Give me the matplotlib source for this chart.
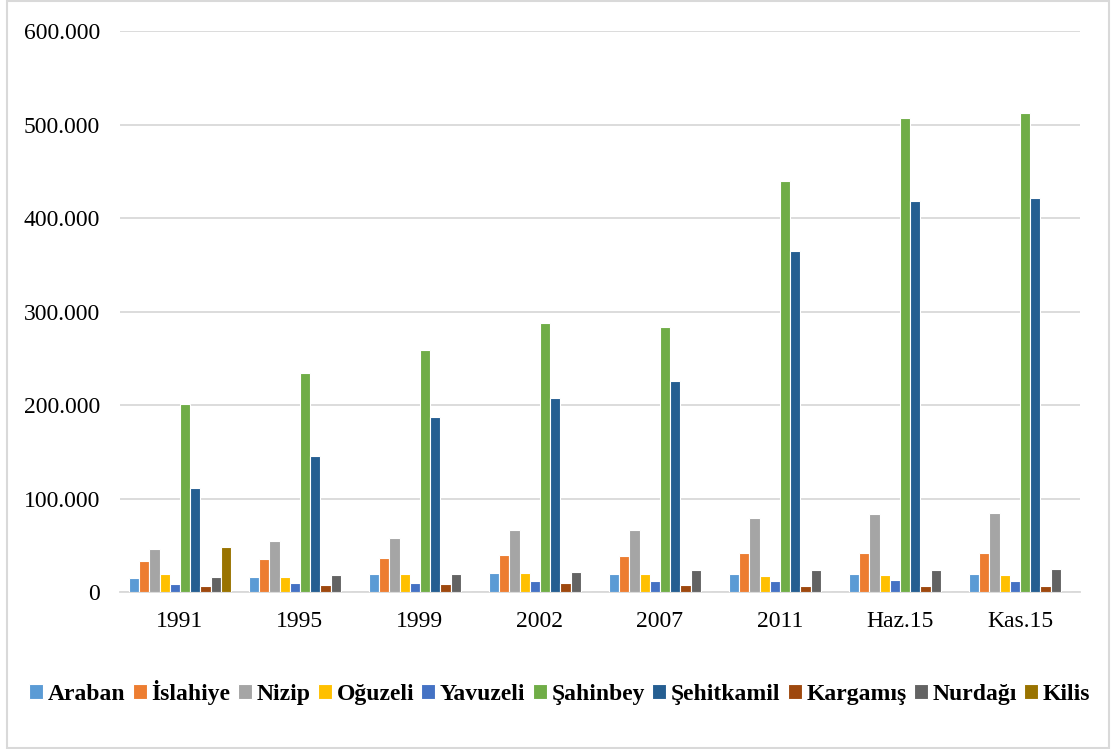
import numpy as np
import matplotlib.pyplot as plt
from matplotlib.patches import Rectangle
from matplotlib.ticker import FuncFormatter

plt.rcParams['font.family'] = ['Liberation Serif', 'DejaVu Serif']

# data
years = ["1991", "1995", "1999", "2002", "2007", "2011", "Haz.15", "Kas.15"]
araban = [15400, 15800, 19000, 20000, 19200, 19200, 19200, 19200]
islahiye = [33000, 35000, 36700, 39600, 38100, 41400, 41400, 41800]
nizip = [46400, 54200, 57800, 66000, 66000, 79000, 83400, 84100]
oguzeli = [19700, 16400, 19600, 20700, 19200, 17100, 18200, 17800]
yavuzeli = [9000, 9600, 9600, 11400, 11800, 12100, 12800, 12100]
sahinbey = [201000, 234000, 259000, 287700, 283400, 439600, 507000, 512300]
sehitkamil = [111000, 145500, 187000, 207500, 225700, 364700, 418000, 421000]
kargamis = [6400, 7800, 8500, 9600, 7800, 6400, 6400, 6000]
nurdagi = [16500, 17800, 18900, 21000, 23500, 23200, 23500, 24200]
kilis = [48000, 0, 0, 0, 0, 0, 0, 0]

series = [
    ("Araban", araban, "#5B9BD5"),
    ("İslahiye", islahiye, "#ED7D31"),
    ("Nizip", nizip, "#A5A5A5"),
    ("Oğuzeli", oguzeli, "#FFC000"),
    ("Yavuzeli", yavuzeli, "#4472C4"),
    ("Şahinbey", sahinbey, "#70AD47"),
    ("Şehitkamil", sehitkamil, "#255E91"),
    ("Kargamış", kargamis, "#9E480E"),
    ("Nurdağı", nurdagi, "#636363"),
    ("Kilis", kilis, "#997300"),
]

fig = plt.figure(figsize=(11.15, 7.49), dpi=100)
ax = fig.add_axes([0.1076, 0.2096, 0.8610, 0.7490])

x = np.arange(len(years))
w = 0.085
n = len(series)
for i, (name, vals, col) in enumerate(series):
    ax.bar(x + (i - (n - 1) / 2) * w, vals, width=w, color=col,
           edgecolor="white", linewidth=0.8, label=name, zorder=3)

ax.set_xlim(-0.5, len(years) - 0.5)
ax.set_ylim(0, 600000)
ax.set_yticks(np.arange(0, 600001, 100000))
ax.yaxis.set_major_formatter(FuncFormatter(lambda v, p: f"{int(v):,}".replace(",", ".")))
ax.set_xticks(x)
ax.set_xticklabels(years)
ax.grid(axis="y", color="#d9d9d9", linewidth=1.3, zorder=0)
for s in ["top", "right", "left"]:
    ax.spines[s].set_visible(False)
ax.spines["bottom"].set_color("#d9d9d9")
ax.spines["bottom"].set_linewidth(1.3)
ax.tick_params(axis="both", length=0, labelsize=17)
ax.tick_params(axis="y", pad=14.5)
ax.tick_params(axis="x", pad=14)

leg = fig.legend(loc="center", bbox_to_anchor=(0.502, 0.076), ncol=10, frameon=False,
                 prop={"weight": "bold", "size": 17}, handlelength=0.6,
                 handleheight=0.6, handletextpad=0.2, columnspacing=0.3)

fig.patches.append(Rectangle((0.0065, 0.002), 0.988, 0.996, transform=fig.transFigure,
                             fill=False, edgecolor="#d9d9d9", linewidth=1.5))

plt.savefig("out.png", dpi=100)
